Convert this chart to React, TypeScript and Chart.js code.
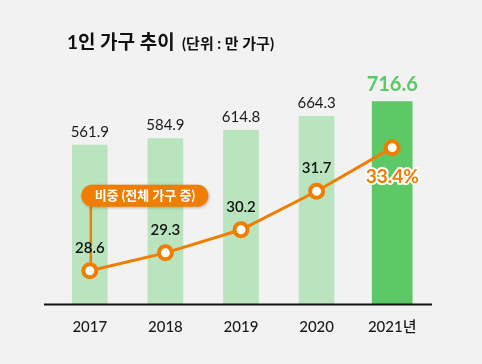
import React, { useEffect, useRef } from 'react';
import { Chart, registerables } from 'chart.js';

Chart.register(...registerables);

const years = ['2017', '2018', '2019', '2020', '2021년'];
const households = [561.9, 584.9, 614.8, 664.3, 716.6];
const shares = [28.6, 29.3, 30.2, 31.7, 33.4];
const titleText = '1인 가구 추이';
const unitText = '(단위 : 만 가구)';
const calloutText = '비중 (전체 가구 중)';

const lastIdx = households.length - 1;
const pastValues = households.map((v, i) => (i === lastIdx ? null : v));
const latestValues = households.map((v, i) => (i === lastIdx ? v : null));

const ORANGE = '#ef7d00';
const LIGHT = '#b9e4bd';
const GREEN = '#5dc866';
const BG = '#f2f2f2';
const FONT = "Lato, 'Noto Sans CJK KR', sans-serif";
const KFONT = "Lato, 'Noto Sans CJK KR', sans-serif";

const decorPlugin = {
  id: 'decor',
  afterDatasetsDraw(chart: any) {
    const ctx = chart.ctx as CanvasRenderingContext2D;
    const area = chart.chartArea;
    const mPast = chart.getDatasetMeta(0);
    const mLast = chart.getDatasetMeta(1);
    const mLine = chart.getDatasetMeta(2);
    ctx.save();

    // axis line
    ctx.strokeStyle = '#111';
    ctx.lineWidth = 2;
    ctx.beginPath();
    ctx.moveTo(area.left - 8, area.bottom + 0.5);
    ctx.lineTo(area.right + 2, area.bottom + 0.5);
    ctx.stroke();

    // bar value labels
    ctx.textAlign = 'center';
    ctx.textBaseline = 'alphabetic';
    households.forEach((v, i) => {
      if (i === lastIdx) {
        const el = mLast.data[i];
        ctx.font = `bold 20px ${FONT}`;
        ctx.fillStyle = GREEN;
        ctx.fillText(v.toFixed(1), el.x, el.y - 10.5);
      } else {
        const el = mPast.data[i];
        ctx.font = `15px ${FONT}`;
        ctx.fillStyle = '#1a1a1a';
        ctx.fillText(v.toFixed(1), el.x, el.y - 8.5);
      }
    });

    // callout connector + pill
    const p0 = mLine.data[0];
    const pillL = p0.x - 8.5;
    const pillT = p0.y - 86;
    const pillW = 127;
    const pillH = 22;
    ctx.strokeStyle = ORANGE;
    ctx.lineWidth = 2.5;
    ctx.beginPath();
    ctx.moveTo(p0.x + 1, pillT + pillH);
    ctx.lineTo(p0.x + 1, p0.y - 8);
    ctx.stroke();

    ctx.save();
    ctx.shadowColor = 'rgba(0,0,0,0.25)';
    ctx.shadowBlur = 3;
    ctx.shadowOffsetX = 1;
    ctx.shadowOffsetY = 1;
    ctx.fillStyle = ORANGE;
    ctx.beginPath();
    (ctx as any).roundRect(pillL, pillT, pillW, pillH, pillH / 2);
    ctx.fill();
    ctx.restore();
    ctx.fillStyle = '#ffffff';
    ctx.font = `bold 13px ${KFONT}`;
    ctx.textAlign = 'center';
    ctx.textBaseline = 'middle';
    ctx.fillText(calloutText, pillL + pillW / 2, pillT + pillH / 2 + 0.5);

    // line value labels
    shares.forEach((v, i) => {
      const el = mLine.data[i];
      if (i === lastIdx) {
        ctx.font = `bold 19px ${FONT}`;
        ctx.textAlign = 'center';
        ctx.textBaseline = 'middle';
        ctx.lineJoin = 'round';
        ctx.strokeStyle = '#ffffff';
        ctx.lineWidth = 4;
        const t = v.toFixed(1) + '%';
        ctx.strokeText(t, el.x, el.y + 29);
        ctx.fillStyle = ORANGE;
        ctx.fillText(t, el.x, el.y + 29);
      } else {
        ctx.font = `600 15px ${FONT}`;
        ctx.textAlign = 'center';
        ctx.textBaseline = 'alphabetic';
        ctx.fillStyle = '#111';
        ctx.fillText(v.toFixed(1), el.x, el.y - 18);
      }
    });

    // title
    ctx.textAlign = 'left';
    ctx.textBaseline = 'alphabetic';
    ctx.fillStyle = '#111';
    ctx.font = `bold 19px ${KFONT}`;
    ctx.fillText(titleText, 67, 49);
    ctx.font = `bold 15px ${KFONT}`;
    ctx.fillText(unitText, 182, 49);

    ctx.restore();
  },
};

export default function App() {
  const ref = useRef<HTMLCanvasElement>(null);

  useEffect(() => {
    document.body.style.margin = '0';
    document.body.style.background = BG;
    const canvas = ref.current;
    if (!canvas) return;
    const chart = new Chart(canvas, {
      type: 'bar',
      data: {
        labels: years,
        datasets: [
          {
            type: 'bar',
            data: pastValues,
            backgroundColor: LIGHT,
            barThickness: 35,
            grouped: false,
            yAxisID: 'y',
            order: 1,
          } as any,
          {
            type: 'bar',
            data: latestValues,
            backgroundColor: GREEN,
            barThickness: 40,
            grouped: false,
            yAxisID: 'y',
            order: 1,
          } as any,
          {
            type: 'line',
            data: shares,
            borderColor: ORANGE,
            borderWidth: 3,
            pointRadius: 6.5,
            pointBorderWidth: 4,
            pointBackgroundColor: '#ffffff',
            pointBorderColor: ORANGE,
            tension: 0,
            yAxisID: 'y1',
            order: 0,
          } as any,
        ],
      },
      options: {
        responsive: false,
        animation: false,
        layout: { padding: { top: 42, left: 52, right: 52, bottom: 14 } },
        plugins: {
          legend: { display: false },
          tooltip: { enabled: false },
          title: { display: false },
        },
        scales: {
          x: {
            grid: { display: false, drawTicks: false },
            border: { display: false },
            ticks: { font: { family: FONT, size: 15, weight: '500' }, color: '#1a1a1a', padding: 14 },
          },
          y: { display: false, min: 0, max: 927 },
          y1: { display: false, min: 27.306, max: 37.518 },
        },
      },
      plugins: [decorPlugin],
    });
    return () => chart.destroy();
  }, []);

  return (
    <div style={{ width: 482, height: 364, background: BG }}>
      <canvas ref={ref} width={482} height={364} style={{ display: 'block' }} />
    </div>
  );
}
